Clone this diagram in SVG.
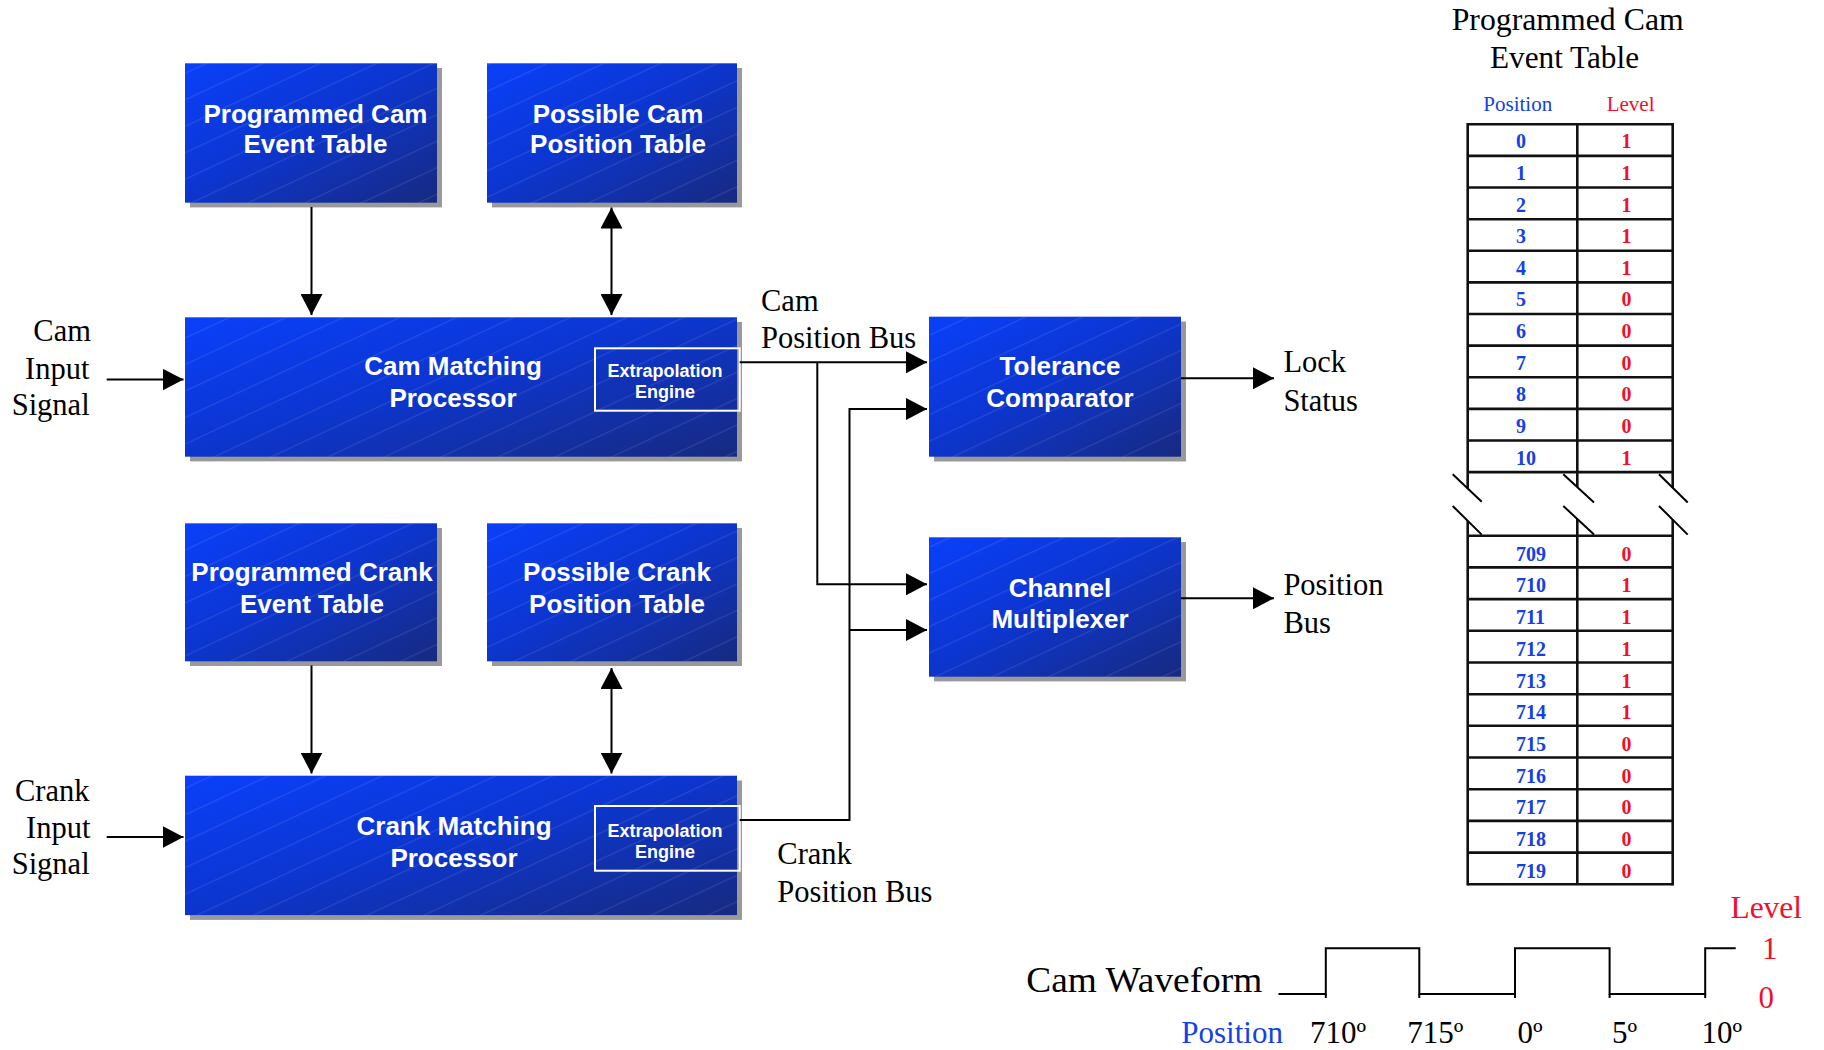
<svg xmlns="http://www.w3.org/2000/svg" width="1824" height="1050" viewBox="0 0 1824 1050">
<defs>
  <linearGradient id="boxg" x1="0" y1="0" x2="1" y2="1">
    <stop offset="0" stop-color="#0a40fa"/>
    <stop offset="0.45" stop-color="#0c36d2"/>
    <stop offset="1" stop-color="#172a80"/>
  </linearGradient>
  <pattern id="stripes" width="40" height="24" patternUnits="userSpaceOnUse" patternTransform="rotate(-25)">
    <rect width="40" height="1.2" fill="#ffffff" fill-opacity="0.10"/>
  </pattern>
  <marker id="ah" viewBox="0 0 21 22" refX="21" refY="11" markerWidth="21" markerHeight="22" markerUnits="userSpaceOnUse" orient="auto-start-reverse">
    <path d="M0,0 L21,11 L0,22 Z" fill="#000"/>
  </marker>
  <style>
    .shadow { fill: #999999; }
    .box { fill: url(#boxg); }
    .tex { fill: url(#stripes); }
    .bt { font-family: "Liberation Sans", Arial, sans-serif; font-weight: bold; font-size: 26px; fill: #ffffff; text-anchor: middle; }
    .et { font-family: "Liberation Sans", Arial, sans-serif; font-weight: bold; font-size: 18px; fill: #ffffff; text-anchor: middle; }
    .ext { fill: none; stroke: #ffffff; stroke-width: 2; }
    .lbl { font-family: "Liberation Serif", "Times New Roman", serif; font-size: 30.5px; fill: #000; }
    .big { font-size: 31px; }
    .wave { font-size: 36.5px; }
    .conn { fill: none; stroke: #000; stroke-width: 2; }
    .arr { marker-end: url(#ah); }
    .both { marker-start: url(#ah); marker-end: url(#ah); }
    .tl { stroke: #111; stroke-width: 2.6; fill: none; }
    .pos { font-family: "Liberation Serif", "Times New Roman", serif; font-weight: bold; font-size: 20px; fill: #1440e6; }
    .lev { font-family: "Liberation Serif", "Times New Roman", serif; font-weight: bold; font-size: 20px; fill: #f0102c; }
    .blue { fill: #1440e6; font-family: "Liberation Serif", "Times New Roman", serif; }
    .red { fill: #f0102c; font-family: "Liberation Serif", "Times New Roman", serif; }
  </style>
</defs>
<rect width="1824" height="1050" fill="#ffffff"/>

<!-- Nodes -->
<g id="prog-cam-table">
  <rect class="shadow" x="190" y="68" width="252" height="139.4"/>
  <rect class="box" x="185" y="63.3" width="252" height="139.4"/>
  <rect class="tex" x="185" y="63.3" width="252" height="139.4"/>
  <text class="bt" x="315.5" y="122.7">Programmed Cam</text>
  <text class="bt" x="315.5" y="152.7">Event Table</text>
</g>
<g id="possible-cam-table">
  <rect class="shadow" x="492" y="68" width="250" height="139.4"/>
  <rect class="box" x="487" y="63.3" width="250" height="139.4"/>
  <rect class="tex" x="487" y="63.3" width="250" height="139.4"/>
  <text class="bt" x="618" y="122.7">Possible Cam</text>
  <text class="bt" x="618" y="152.7">Position Table</text>
</g>
<g id="cam-matching-processor">
  <rect class="shadow" x="190" y="322" width="552" height="139.4"/>
  <rect class="box" x="185" y="317.3" width="552" height="139.4"/>
  <rect class="tex" x="185" y="317.3" width="552" height="139.4"/>
  <text class="bt" x="453" y="375">Cam Matching</text>
  <text class="bt" x="453" y="406.7">Processor</text>
  <rect class="ext" x="595" y="348.3" width="144.7" height="62.4"/>
  <text class="et" x="665" y="377.3">Extrapolation</text>
  <text class="et" x="665" y="398.3">Engine</text>
</g>
<g id="prog-crank-table">
  <rect class="shadow" x="190" y="528" width="252" height="138"/>
  <rect class="box" x="185" y="523.3" width="252" height="138"/>
  <rect class="tex" x="185" y="523.3" width="252" height="138"/>
  <text class="bt" x="312" y="581">Programmed Crank</text>
  <text class="bt" x="312" y="612.7">Event Table</text>
</g>
<g id="possible-crank-table">
  <rect class="shadow" x="492" y="528" width="250" height="138"/>
  <rect class="box" x="487" y="523.3" width="250" height="138"/>
  <rect class="tex" x="487" y="523.3" width="250" height="138"/>
  <text class="bt" x="617" y="581">Possible Crank</text>
  <text class="bt" x="617" y="612.7">Position Table</text>
</g>
<g id="crank-matching-processor">
  <rect class="shadow" x="190" y="780.5" width="552" height="139.4"/>
  <rect class="box" x="185" y="775.7" width="552" height="139.4"/>
  <rect class="tex" x="185" y="775.7" width="552" height="139.4"/>
  <text class="bt" x="454" y="835">Crank Matching</text>
  <text class="bt" x="454" y="866.7">Processor</text>
  <rect class="ext" x="595" y="806" width="144.7" height="64.7"/>
  <text class="et" x="665" y="837.3">Extrapolation</text>
  <text class="et" x="665" y="858.3">Engine</text>
</g>
<g id="tolerance-comparator">
  <rect class="shadow" x="934" y="321.5" width="252" height="140"/>
  <rect class="box" x="929" y="316.7" width="252" height="140"/>
  <rect class="tex" x="929" y="316.7" width="252" height="140"/>
  <text class="bt" x="1060" y="374.5">Tolerance</text>
  <text class="bt" x="1060" y="406.5">Comparator</text>
</g>
<g id="channel-multiplexer">
  <rect class="shadow" x="934" y="542" width="252" height="139.4"/>
  <rect class="box" x="929" y="537.3" width="252" height="139.4"/>
  <rect class="tex" x="929" y="537.3" width="252" height="139.4"/>
  <text class="bt" x="1060" y="596.7">Channel</text>
  <text class="bt" x="1060" y="628.3">Multiplexer</text>
</g>

<!-- Labels -->
<g id="labels">
  <text class="lbl" x="33.3" y="341.3">Cam</text>
  <text class="lbl" x="25" y="378.5">Input</text>
  <text class="lbl" x="11.7" y="414.8">Signal</text>
  <text class="lbl" x="15" y="801.3">Crank</text>
  <text class="lbl" x="26" y="837.7">Input</text>
  <text class="lbl" x="11.7" y="874">Signal</text>
  <text class="lbl" x="761" y="310.7">Cam</text>
  <text class="lbl" x="761" y="348.3">Position Bus</text>
  <text class="lbl" x="777.3" y="864.3">Crank</text>
  <text class="lbl" x="777.3" y="901.7">Position Bus</text>
  <text class="lbl" x="1283.4" y="372.3">Lock</text>
  <text class="lbl" x="1283.4" y="410.7">Status</text>
  <text class="lbl" x="1283.4" y="595">Position</text>
  <text class="lbl" x="1283.4" y="632.7">Bus</text>
</g>

<!-- Connectors -->
<g id="connectors">
  <path class="conn arr" d="M106.7,379.6 H183.5"/>
  <path class="conn arr" d="M106.7,837 H183.5"/>
  <path class="conn arr" d="M311.5,207 V315"/>
  <path class="conn both" d="M611.5,207.5 V315"/>
  <path class="conn arr" d="M311.5,665.5 V773.5"/>
  <path class="conn both" d="M611.5,668 V773.5"/>
  <path class="conn arr" d="M739.7,362.3 H927"/>
  <path class="conn arr" d="M817.3,362.3 V584.3 H927"/>
  <path class="conn arr" d="M739.7,820 H849.5 V409 H927"/>
  <path class="conn arr" d="M849.5,630 H927"/>
  <path class="conn arr" d="M1181,378.3 H1274"/>
  <path class="conn arr" d="M1181,598.3 H1274"/>
</g>

<!-- Programmed Cam Event Table (right) -->
<g id="event-table">
  <text class="lbl big" x="1451.7" y="30.4" textLength="232" lengthAdjust="spacingAndGlyphs">Programmed Cam</text>
  <text class="lbl big" x="1490" y="67.9" textLength="149" lengthAdjust="spacingAndGlyphs">Event Table</text>
  <text class="blue" x="1483.3" y="110.7" font-size="21">Position</text>
  <text class="red" x="1606.7" y="110.7" font-size="21">Level</text>
  <!-- upper grid -->
  <path class="tl" d="M1467.7,124.3 H1672.7 M1467.7,155.9 H1672.7 M1467.7,187.5 H1672.7 M1467.7,219.2 H1672.7 M1467.7,250.8 H1672.7 M1467.7,282.4 H1672.7 M1467.7,314 H1672.7 M1467.7,345.6 H1672.7 M1467.7,377.3 H1672.7 M1467.7,408.9 H1672.7 M1467.7,440.5 H1672.7 M1467.7,472.1 H1672.7"/>
  <path class="tl" d="M1467.7,123 V488.6 M1577.3,124.3 V487 M1672.7,123 V487.8"/>
  <!-- lower grid -->
  <path class="tl" d="M1467.7,535.7 H1672.7 M1467.7,567.4 H1672.7 M1467.7,599.1 H1672.7 M1467.7,630.8 H1672.7 M1467.7,662.5 H1672.7 M1467.7,694.2 H1672.7 M1467.7,725.8 H1672.7 M1467.7,757.5 H1672.7 M1467.7,789.2 H1672.7 M1467.7,820.9 H1672.7 M1467.7,852.6 H1672.7 M1467.7,884.3 H1672.7"/>
  <path class="tl" d="M1467.7,520.8 V885.5 M1577.3,519 V884.3 M1672.7,519.6 V885.5"/>
  <!-- break marks -->
  <path class="conn" d="M1452.7,474.3 L1481.7,501.8 M1452.7,506 L1481.7,534.6 M1563.3,474.3 L1594,502.5 M1563.3,506 L1594,534.6 M1659,474.3 L1687.7,502.5 M1659,506 L1687.7,534.6"/>
  <g class="pos">
    <text x="1516" y="148.3">0</text>
    <text x="1516" y="179.9">1</text>
    <text x="1516" y="211.5">2</text>
    <text x="1516" y="243.2">3</text>
    <text x="1516" y="274.8">4</text>
    <text x="1516" y="306.4">5</text>
    <text x="1516" y="338">6</text>
    <text x="1516" y="369.6">7</text>
    <text x="1516" y="401.3">8</text>
    <text x="1516" y="432.9">9</text>
    <text x="1516" y="464.5">10</text>
    <text x="1516" y="560.7">709</text>
    <text x="1516" y="592.4">710</text>
    <text x="1516" y="624.1">711</text>
    <text x="1516" y="655.8">712</text>
    <text x="1516" y="687.5">713</text>
    <text x="1516" y="719.2">714</text>
    <text x="1516" y="750.8">715</text>
    <text x="1516" y="782.5">716</text>
    <text x="1516" y="814.2">717</text>
    <text x="1516" y="845.9">718</text>
    <text x="1516" y="877.6">719</text>
  </g>
  <g class="lev">
    <text x="1621.5" y="148.3">1</text>
    <text x="1621.5" y="179.9">1</text>
    <text x="1621.5" y="211.5">1</text>
    <text x="1621.5" y="243.2">1</text>
    <text x="1621.5" y="274.8">1</text>
    <text x="1621.5" y="306.4">0</text>
    <text x="1621.5" y="338">0</text>
    <text x="1621.5" y="369.6">0</text>
    <text x="1621.5" y="401.3">0</text>
    <text x="1621.5" y="432.9">0</text>
    <text x="1621.5" y="464.5">1</text>
    <text x="1621.5" y="560.7">0</text>
    <text x="1621.5" y="592.4">1</text>
    <text x="1621.5" y="624.1">1</text>
    <text x="1621.5" y="655.8">1</text>
    <text x="1621.5" y="687.5">1</text>
    <text x="1621.5" y="719.2">1</text>
    <text x="1621.5" y="750.8">0</text>
    <text x="1621.5" y="782.5">0</text>
    <text x="1621.5" y="814.2">0</text>
    <text x="1621.5" y="845.9">0</text>
    <text x="1621.5" y="877.6">0</text>
  </g>
</g>

<!-- Cam waveform -->
<g id="cam-waveform">
  <text class="lbl wave" x="1026.3" y="991.7" textLength="236" lengthAdjust="spacingAndGlyphs">Cam Waveform</text>
  <path class="conn" d="M1278.5,994 H1325.8 V948.3 H1419.3 V994 H1515 V948.3 H1609.6 V994 H1705.2 V948.3 H1735.7"/>
  <path class="conn" d="M1325.8,994 V998 M1419.3,994 V998 M1515,994 V998 M1609.6,994 V998 M1705.2,994 V998"/>
  <text class="red" x="1730.4" y="918.3" font-size="31.5">Level</text>
  <text class="red" x="1762" y="959" font-size="31">1</text>
  <text class="red" x="1758.5" y="1007.7" font-size="31">0</text>
  <text class="blue" x="1181.3" y="1043.3" font-size="31">Position</text>
  <text class="lbl big" x="1310" y="1043.3">710º</text>
  <text class="lbl big" x="1407.3" y="1043.3">715º</text>
  <text class="lbl big" x="1517.6" y="1043.3">0º</text>
  <text class="lbl big" x="1612" y="1043.3">5º</text>
  <text class="lbl big" x="1701.5" y="1043.3">10º</text>
</g>
</svg>
